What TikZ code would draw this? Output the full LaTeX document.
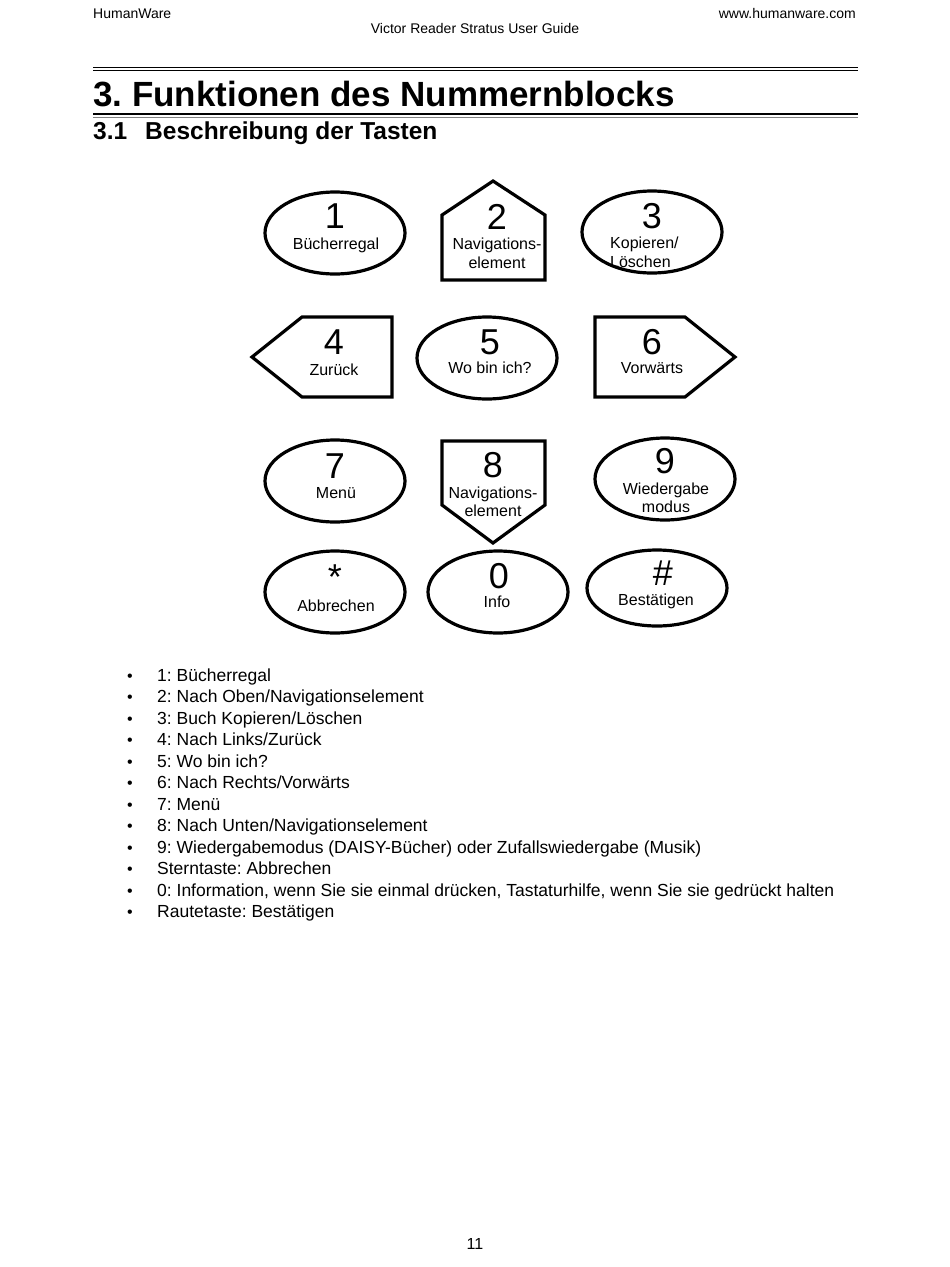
\documentclass[tikz,border=0pt]{standalone}
\usepackage{fontspec}
\setmainfont{Liberation Sans}
\usepackage{tikz}
\usetikzlibrary{shapes.geometric}
\tikzset{
    keyoval/.style={ellipse, draw, line width=3.2pt, minimum width=140pt, minimum height=82pt, inner sep=0pt},
    keyedge/.style={draw, line width=3.2pt, line join=miter},
    digit/.style={anchor=base, inner sep=0pt, font=\fontsize{36}{40}\selectfont},
    caption/.style={anchor=base, inner sep=0pt, font=\fontsize{16}{18}\selectfont},
    listitem/.style={anchor=base west, inner sep=0pt, font=\fontsize{17.5}{21}\selectfont},
    listbullet/.style={anchor=base, inner sep=0pt, font=\fontsize{16}{21}\selectfont}
}
\frenchspacing

\begin{document}
\begin{tikzpicture}[x=1pt, y=-1pt]
    \useasboundingbox (0,0) rectangle (950,1267);

    % Kopfzeile
    \node[anchor=base west, inner sep=0pt, font=\fontsize{14}{16}\selectfont] (kopfl) at (93,18) {HumanWare};
    \node[anchor=base east, inner sep=0pt, font=\fontsize{14}{16}\selectfont] (kopfr) at (856,18) {www.humanware.com};
    \node[anchor=base, inner sep=0pt, font=\fontsize{14}{16}\selectfont] (kopfm) at (475,33) {Victor Reader Stratus User Guide};

    % Ueberschriften
    \draw[line width=1pt] (93,67) -- (858,67);
    \draw[line width=1pt] (93,70.5) -- (858,70.5);
    \node[anchor=base west, inner sep=0pt, font=\fontsize{35}{40}\selectfont\bfseries] (titel) at (93,106) {3. Funktionen des Nummernblocks};
    \draw[line width=1.6pt] (93,114) -- (858,114);
    \draw[line width=0.6pt, gray] (93,117) -- (858,117);
    \node[anchor=base west, inner sep=0pt, font=\fontsize{24.5}{28}\selectfont\bfseries] (nr) at (93,139) {3.1};
    \node[anchor=base west, inner sep=0pt, font=\fontsize{24.5}{28}\selectfont\bfseries] (untertitel) at (145,139) {Beschreibung der Tasten};

    % Tasten: Umrisse
    \node[keyoval] (k1) at (335,233) {};
    \draw[keyedge] (493,181) -- (545,215) -- (545,280) -- (442,280) -- (442,215) -- cycle;
    \node[keyoval] (k3) at (652,232) {};
    \draw[keyedge] (252,357) -- (302,317) -- (392,317) -- (392,397) -- (302,397) -- cycle;
    \node[keyoval] (k5) at (487,358) {};
    \draw[keyedge] (595,317) -- (685,317) -- (735,357) -- (685,397) -- (595,397) -- cycle;
    \node[keyoval] (k7) at (335,481) {};
    \draw[keyedge] (442,441) -- (545,441) -- (545,505) -- (493,543) -- (442,505) -- cycle;
    \node[keyoval] (k9) at (665,479) {};
    \node[keyoval] (kstern) at (335,592) {};
    \node[keyoval] (k0) at (498,592) {};
    \node[keyoval, minimum height=76pt] (kraute) at (657,588) {};

    % Tasten: Beschriftung
    \node[digit] (n1) at (335,228) {1};
    \node[caption] (t1) at (336,249) {Bücherregal};
    \node[digit] (n2) at (497,229) {2};
    \node[caption] (t2a) at (497,249) {Navigations-};
    \node[caption] (t2b) at (497,268) {element};
    \node[digit] (n3) at (652,228) {3};
    \node[caption, anchor=base west] (t3a) at (610,248) {Kopieren/};
    \node[caption, anchor=base west] (t3b) at (610,267) {Löschen};
    \node[digit] (n4) at (334,354) {4};
    \node[caption] (t4) at (334,375) {Zurück};
    \node[digit] (n5) at (490,354) {5};
    \node[caption] (t5) at (490,373) {Wo bin ich?};
    \node[digit] (n6) at (652,354) {6};
    \node[caption] (t6) at (652,373) {Vorwärts};
    \node[digit] (n7) at (335,478) {7};
    \node[caption] (t7) at (336,498) {Menü};
    \node[digit] (n8) at (493,477) {8};
    \node[caption] (t8a) at (493,498) {Navigations-};
    \node[caption] (t8b) at (493,516) {element};
    \node[digit] (n9) at (665,473) {9};
    \node[caption] (t9a) at (666,494) {Wiedergabe};
    \node[caption] (t9b) at (666,512) {modus};
    \node[digit] (nstern) at (335,589) {*};
    \node[caption] (tstern) at (336,611) {Abbrechen};
    \node[digit] (n0) at (499,588) {0};
    \node[caption] (t0) at (497,607) {Info};
    \node[digit] (nraute) at (663,585) {\#};
    \node[caption] (traute) at (656,605) {Bestätigen};

    % Liste
    \node[listbullet] (b1) at (130,681) {\textbullet};
    \node[listitem] (l1) at (157,681) {1: Bücherregal};
    \node[listbullet] (b2) at (130,702.5) {\textbullet};
    \node[listitem] (l2) at (157,702.5) {2: Nach Oben/Navigationselement};
    \node[listbullet] (b3) at (130,724) {\textbullet};
    \node[listitem] (l3) at (157,724) {3: Buch Kopieren/Löschen};
    \node[listbullet] (b4) at (130,745.5) {\textbullet};
    \node[listitem] (l4) at (157,745.5) {4: Nach Links/Zurück};
    \node[listbullet] (b5) at (130,767) {\textbullet};
    \node[listitem] (l5) at (157,767) {5: Wo bin ich?};
    \node[listbullet] (b6) at (130,788.5) {\textbullet};
    \node[listitem] (l6) at (157,788.5) {6: Nach Rechts/Vorwärts};
    \node[listbullet] (b7) at (130,810) {\textbullet};
    \node[listitem] (l7) at (157,810) {7: Menü};
    \node[listbullet] (b8) at (130,831.5) {\textbullet};
    \node[listitem] (l8) at (157,831.5) {8: Nach Unten/Navigationselement};
    \node[listbullet] (b9) at (130,853) {\textbullet};
    \node[listitem] (l9) at (157,853) {9: Wiedergabemodus (DAISY-Bücher) oder Zufallswiedergabe (Musik)};
    \node[listbullet] (b10) at (130,874.5) {\textbullet};
    \node[listitem] (l10) at (157,874.5) {Sterntaste: Abbrechen};
    \node[listbullet] (b11) at (130,896) {\textbullet};
    \node[listitem] (l11) at (157,896) {0: Information, wenn Sie sie einmal drücken, Tastaturhilfe, wenn Sie sie gedrückt halten};
    \node[listbullet] (b12) at (130,917.5) {\textbullet};
    \node[listitem] (l12) at (157,917.5) {Rautetaste: Bestätigen};

    % Seitenzahl
    \node[anchor=base, inner sep=0pt, font=\fontsize{16}{18}\selectfont] (seite) at (475,1249) {11};

\end{tikzpicture}
\end{document}
